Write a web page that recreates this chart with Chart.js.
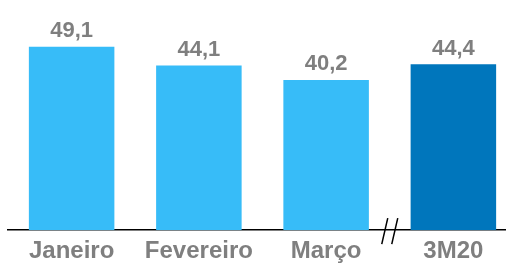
<!DOCTYPE html>
<html lang="pt">
<head>
<meta charset="UTF-8">
<title>Mensal</title>
<script src="https://cdn.jsdelivr.net/npm/chart.js"></script>
<style>
  html, body { margin: 0; padding: 0; background: #fff; overflow: hidden; }
  #wrap { width: 506px; height: 267px; overflow: hidden; }
</style>
</head>
<body>
<div id="wrap"><canvas id="chart" width="517" height="267"></canvas></div>
<script>
const categories = ['Janeiro', 'Fevereiro', 'Março', '3M20'];
const values = [49.1, 44.1, 40.2, 44.4];
const barColors = ['#37BCF8', '#37BCF8', '#37BCF8', '#0076BC'];

const labelColor = '#7f7f7f';
const fontFamily = 'Liberation Sans, Arial, sans-serif';

// value labels above bars
const valueLabels = {
    id: 'valueLabels',
    afterDatasetsDraw(chart) {
        const ctx = chart.ctx;
        const meta = chart.getDatasetMeta(0);
        ctx.save();
        ctx.font = 'bold 22px ' + fontFamily;
        ctx.fillStyle = labelColor;
        ctx.textAlign = 'center';
        ctx.textBaseline = 'alphabetic';
        meta.data.forEach((bar, i) => {
            ctx.fillText(values[i].toFixed(1).replace('.', ','), bar.x, bar.y - 9.5);
        });
        ctx.restore();
    }
};

// "//" break mark between Março and 3M20
const axisBreak = {
    id: 'axisBreak',
    afterDraw(chart) {
        const x = chart.scales.x;
        const xb = (x.getPixelForValue(2) + x.getPixelForValue(3)) / 2;
        const yb = chart.chartArea.bottom;
        const ctx = chart.ctx;
        ctx.save();
        ctx.strokeStyle = '#000';
        ctx.lineWidth = 1.5;
        [-5, 5].forEach(dx => {
            ctx.beginPath();
            ctx.moveTo(xb + dx + 3, yb - 12);
            ctx.lineTo(xb + dx - 3, yb + 14);
            ctx.stroke();
        });
        ctx.restore();
    }
};

new Chart(document.getElementById('chart'), {
    type: 'bar',
    data: {
        labels: categories,
        datasets: [{
            data: values,
            backgroundColor: barColors,
            borderWidth: 0,
            categoryPercentage: 1,
            barPercentage: 0.672
        }]
    },
    options: {
        responsive: false,
        animation: false,
        layout: { padding: { top: 6, left: 8, right: 0, bottom: -6 } },
        plugins: { legend: { display: false }, tooltip: { enabled: false } },
        scales: {
            x: {
                grid: { display: false, drawTicks: false },
                border: { display: true, color: '#000', width: 1.5 },
                ticks: {
                    color: labelColor,
                    padding: 7,
                    font: { family: fontFamily, size: 24, weight: 'bold' }
                }
            },
            y: {
                display: false,
                min: 0,
                max: 60
            }
        }
    },
    plugins: [valueLabels, axisBreak]
});
</script>
</body>
</html>
